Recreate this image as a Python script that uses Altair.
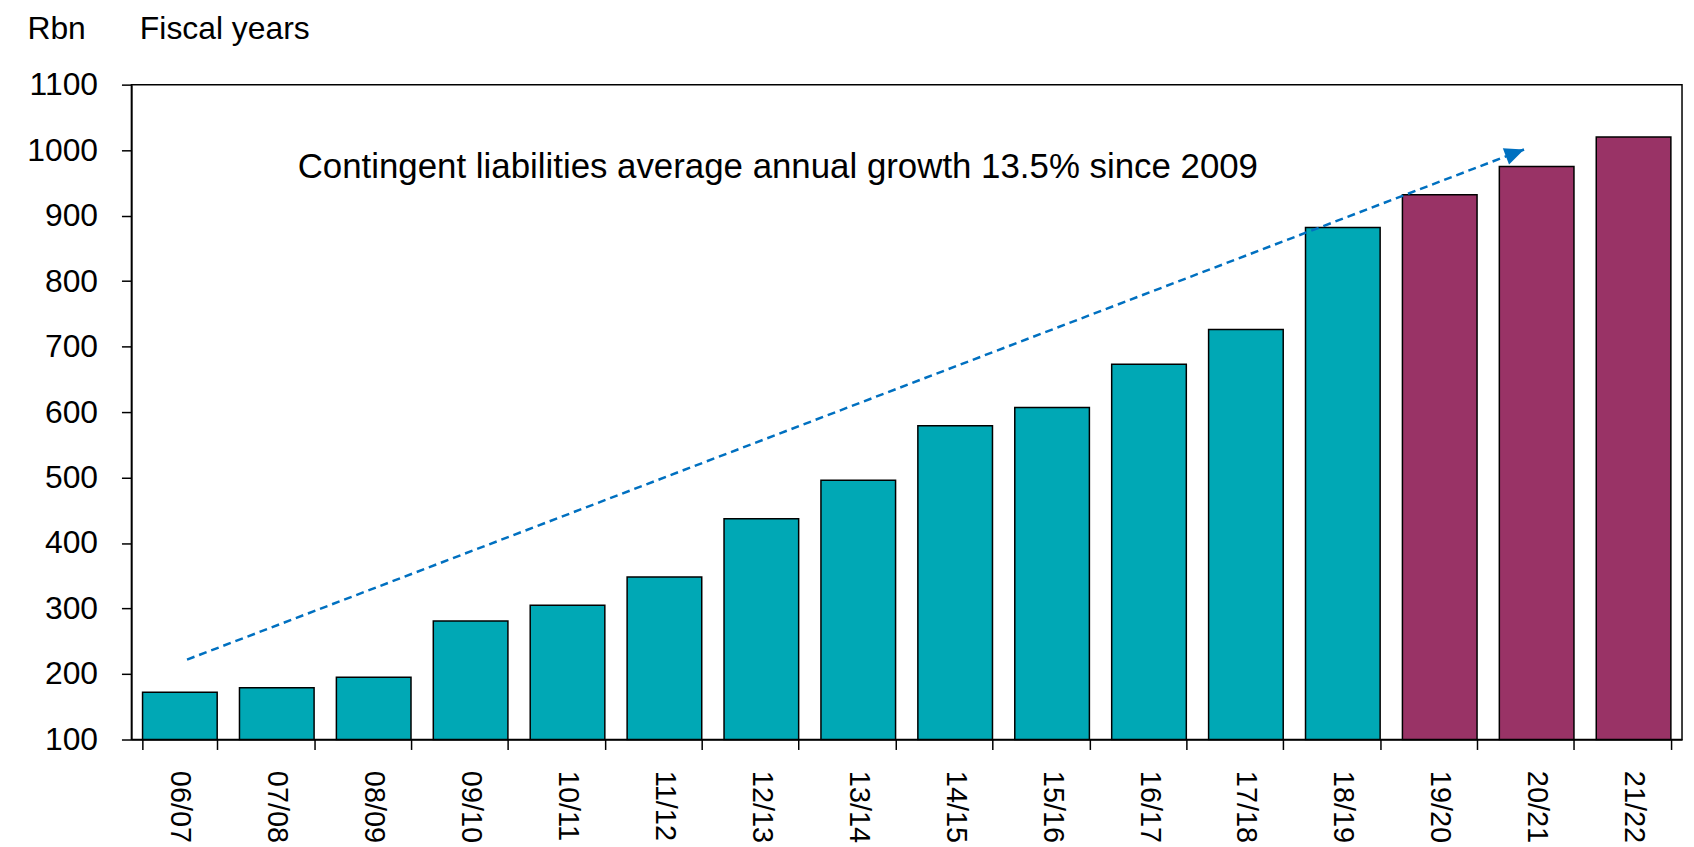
import altair as alt
import pandas as pd

# ---- data ----
years = ["06/07", "07/08", "08/09", "09/10", "10/11", "11/12", "12/13", "13/14",
         "14/15", "15/16", "16/17", "17/18", "18/19", "19/20", "20/21", "21/22"]
values = [172, 179, 195, 281, 305, 348, 437, 496, 579, 607, 673, 726, 882, 932, 975, 1020]
period = ["Actual", "Actual", "Actual", "Actual", "Actual", "Actual", "Actual", "Actual",
          "Actual", "Actual", "Actual", "Actual", "Actual", "Projected", "Projected", "Projected"]
y_ticks = [100, 200, 300, 400, 500, 600, 700, 800, 900, 1000, 1100]

# trend arrow (x in category-index units, y in Rbn)
arrow_x = [0.574, 14.37]
arrow_y = [222, 1001]

note_text = ["Contingent liabilities average annual growth 13.5% since 2009"]
note_x = [6.67]
note_y = [957]

bars_df = pd.DataFrame({"year": years, "value": values, "period": period})
arrow_df = pd.DataFrame({"x": arrow_x, "value": arrow_y})
head_df = arrow_df.iloc[[1]]
note_df = pd.DataFrame({"x": note_x, "value": note_y, "text": note_text})

FONT = "Liberation Sans"
FS = 32

yscale = alt.Scale(domain=[100, 1100], nice=False, zero=False)
yaxis = alt.Axis(title="Rbn", values=y_ticks, format="d", tickSize=10, labelPadding=24,
                 titleAngle=0, titleX=-105, titleY=-46, titleAlign="left",
                 titleBaseline="alphabetic")

bars = alt.Chart(bars_df).mark_bar(stroke="black", strokeWidth=1.5).encode(
    x=alt.X("year:N", sort=None,
            scale=alt.Scale(paddingInner=0.23, paddingOuter=0.115),
            axis=alt.Axis(title="Fiscal years", labelAngle=90, tickBand="extent",
                          tickSize=10, labelPadding=21, labelFontSize=29,
                          titleAngle=0, titleX=8, titleY=-704, titleAlign="left",
                          titleBaseline="alphabetic")),
    y=alt.Y("value:Q", scale=yscale, axis=yaxis),
    y2=alt.datum(100),
    color=alt.Color("period:N",
                    scale=alt.Scale(domain=["Actual", "Projected"],
                                    range=["#00A8B5", "#993366"]),
                    legend=None),
)

xq = alt.X("x:Q", scale=alt.Scale(domain=[0, 16], nice=False, zero=False), axis=None)
yq = alt.Y("value:Q", scale=yscale, axis=yaxis)

line = alt.Chart(arrow_df).mark_line(color="#0070C0", strokeWidth=2.5,
                                     strokeDash=[8, 5]).encode(x=xq, y=yq)

head = alt.Chart(head_df).mark_point(shape="M0,0L-2,-0.9L-2,0.9Z", filled=True,
                                     color="#0070C0", size=380, angle=339.1,
                                     opacity=1).encode(x=xq, y=yq)

note = alt.Chart(note_df).mark_text(font=FONT, fontSize=35, align="center",
                                    baseline="alphabetic", color="black").encode(
    x=xq, y=yq, text="text:N")

chart = (
    alt.layer(bars, line, head, note)
    .resolve_scale(x="independent")
    .properties(width=1558, height=658,
                autosize=alt.AutoSizeParams(type="none"),
                padding={"left": 124, "top": 75, "right": 4, "bottom": 106})
    .configure_view(stroke="black", strokeWidth=1.5)
    .configure_axis(labelFont=FONT, titleFont=FONT, labelFontSize=FS, titleFontSize=FS,
                    labelColor="black", titleColor="black", domainColor="black",
                    tickColor="black", grid=False, domainWidth=1.5, tickWidth=1.5,
                    titleFontWeight="normal")
)

chart.save("out.html", embed_options={"renderer": "svg", "actions": False})
